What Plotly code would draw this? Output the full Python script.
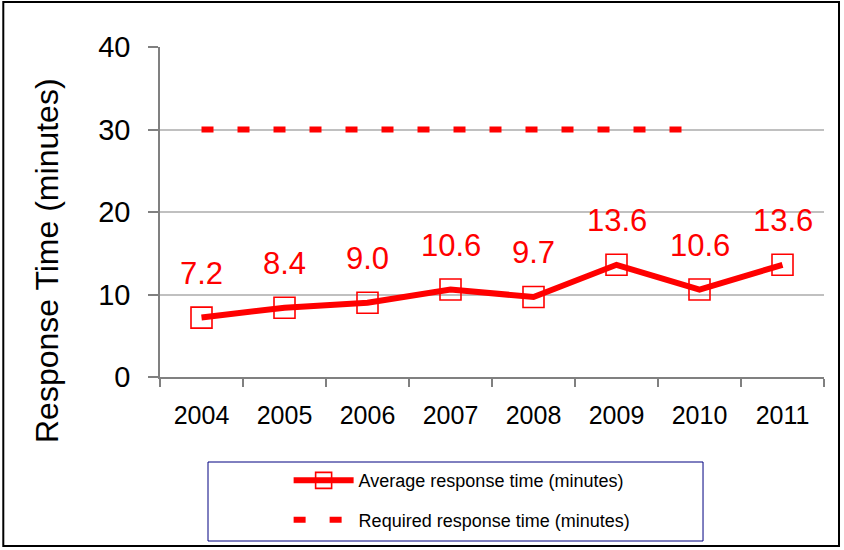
import plotly.graph_objects as go

years = ["2004", "2005", "2006", "2007", "2008", "2009", "2010", "2011"]
avg_time = [7.2, 8.4, 9.0, 10.6, 9.7, 13.6, 10.6, 13.6]
req_years = ["2004", "2005", "2006", "2007", "2008", "2009", "2010"]
req_time = [30, 30, 30, 30, 30, 30, 30]
avg_labels = ["7.2", "8.4", "9.0", "10.6", "9.7", "13.6", "10.6", "13.6"]
y_ticks = [0, 10, 20, 30, 40]
y_title = "Response Time (minutes)"

RED = "#FF0000"
FONT = "Liberation Sans, Arial, sans-serif"

fig = go.Figure()
fig.add_trace(go.Scatter(
    x=years, y=avg_time, mode="lines+markers",
    name="Average response time (minutes)",
    line=dict(color=RED, width=6),
    marker=dict(symbol="square-open", size=21, color=RED, line=dict(width=1.6, color=RED)),
    legendgroup="a",
))
fig.add_trace(go.Scatter(
    x=req_years, y=req_time, mode="lines",
    name="Required response time (minutes)",
    line=dict(color=RED, width=6, dash="12px,24px"),
    legendgroup="b",
))

for i, (y, t) in enumerate(zip(avg_time, avg_labels)):
    fig.add_annotation(x=i, y=y, text=t, showarrow=False, yshift=44,
                       font=dict(size=31, color=RED, family=FONT),
                       xanchor="center", yanchor="middle")

# y axis title (positioned like the original, below plot centre)
fig.add_annotation(xref="paper", yref="paper", x=-0.1702, y=0.3545,
                   text=y_title, textangle=-90, showarrow=False,
                   xanchor="center", yanchor="middle",
                   font=dict(size=32, color="black", family=FONT))

# legend box and outer border
fig.add_shape(type="rect", xref="paper", yref="paper",
              x0=0.0723, x1=0.8178, y0=-0.497, y1=-0.2576,
              line=dict(color="#000080", width=1), fillcolor="rgba(0,0,0,0)")
fig.add_shape(type="rect", xref="paper", yref="paper",
              x0=-0.236, x1=1.0226, y0=-0.512, y1=1.1364,
              line=dict(color="#000000", width=2), fillcolor="rgba(0,0,0,0)")

fig.update_layout(
    width=844, height=550,
    margin=dict(l=160, r=20, t=47, b=173),
    paper_bgcolor="white", plot_bgcolor="white",
    font=dict(family=FONT, color="black"),
    showlegend=True,
    legend=dict(
        x=0.455, xanchor="center", y=-0.258, yanchor="top",
        font=dict(size=18, color="black", family=FONT),
        bgcolor="rgba(0,0,0,0)", borderwidth=0,
        tracegroupgap=13, traceorder="grouped", itemwidth=60,
    ),
    xaxis=dict(
        type="category", categoryorder="array", categoryarray=years,
        range=[-0.5, 7.5],
        tickson="boundaries", ticks="outside", ticklen=8, tickcolor="#808080",
        tickwidth=1.5,
        showline=True, linecolor="#808080", linewidth=1.5,
        showgrid=False,
        tickfont=dict(size=25, color="black", family=FONT),
        ticklabelstandoff=15,
    ),
    yaxis=dict(
        range=[0, 40], tickvals=y_ticks,
        ticks="outside", ticklen=10, tickcolor="#808080", tickwidth=1.5,
        showline=True, linecolor="#808080", linewidth=1.5,
        showgrid=True, gridcolor="#C0C0C0", gridwidth=2,
        zeroline=False,
        tickfont=dict(size=29, color="black", family=FONT),
        ticklabelstandoff=12,
    ),
)

fig.write_html("out.html", post_script="document.body.style.margin='0';",
               config={"displayModeBar": False})
